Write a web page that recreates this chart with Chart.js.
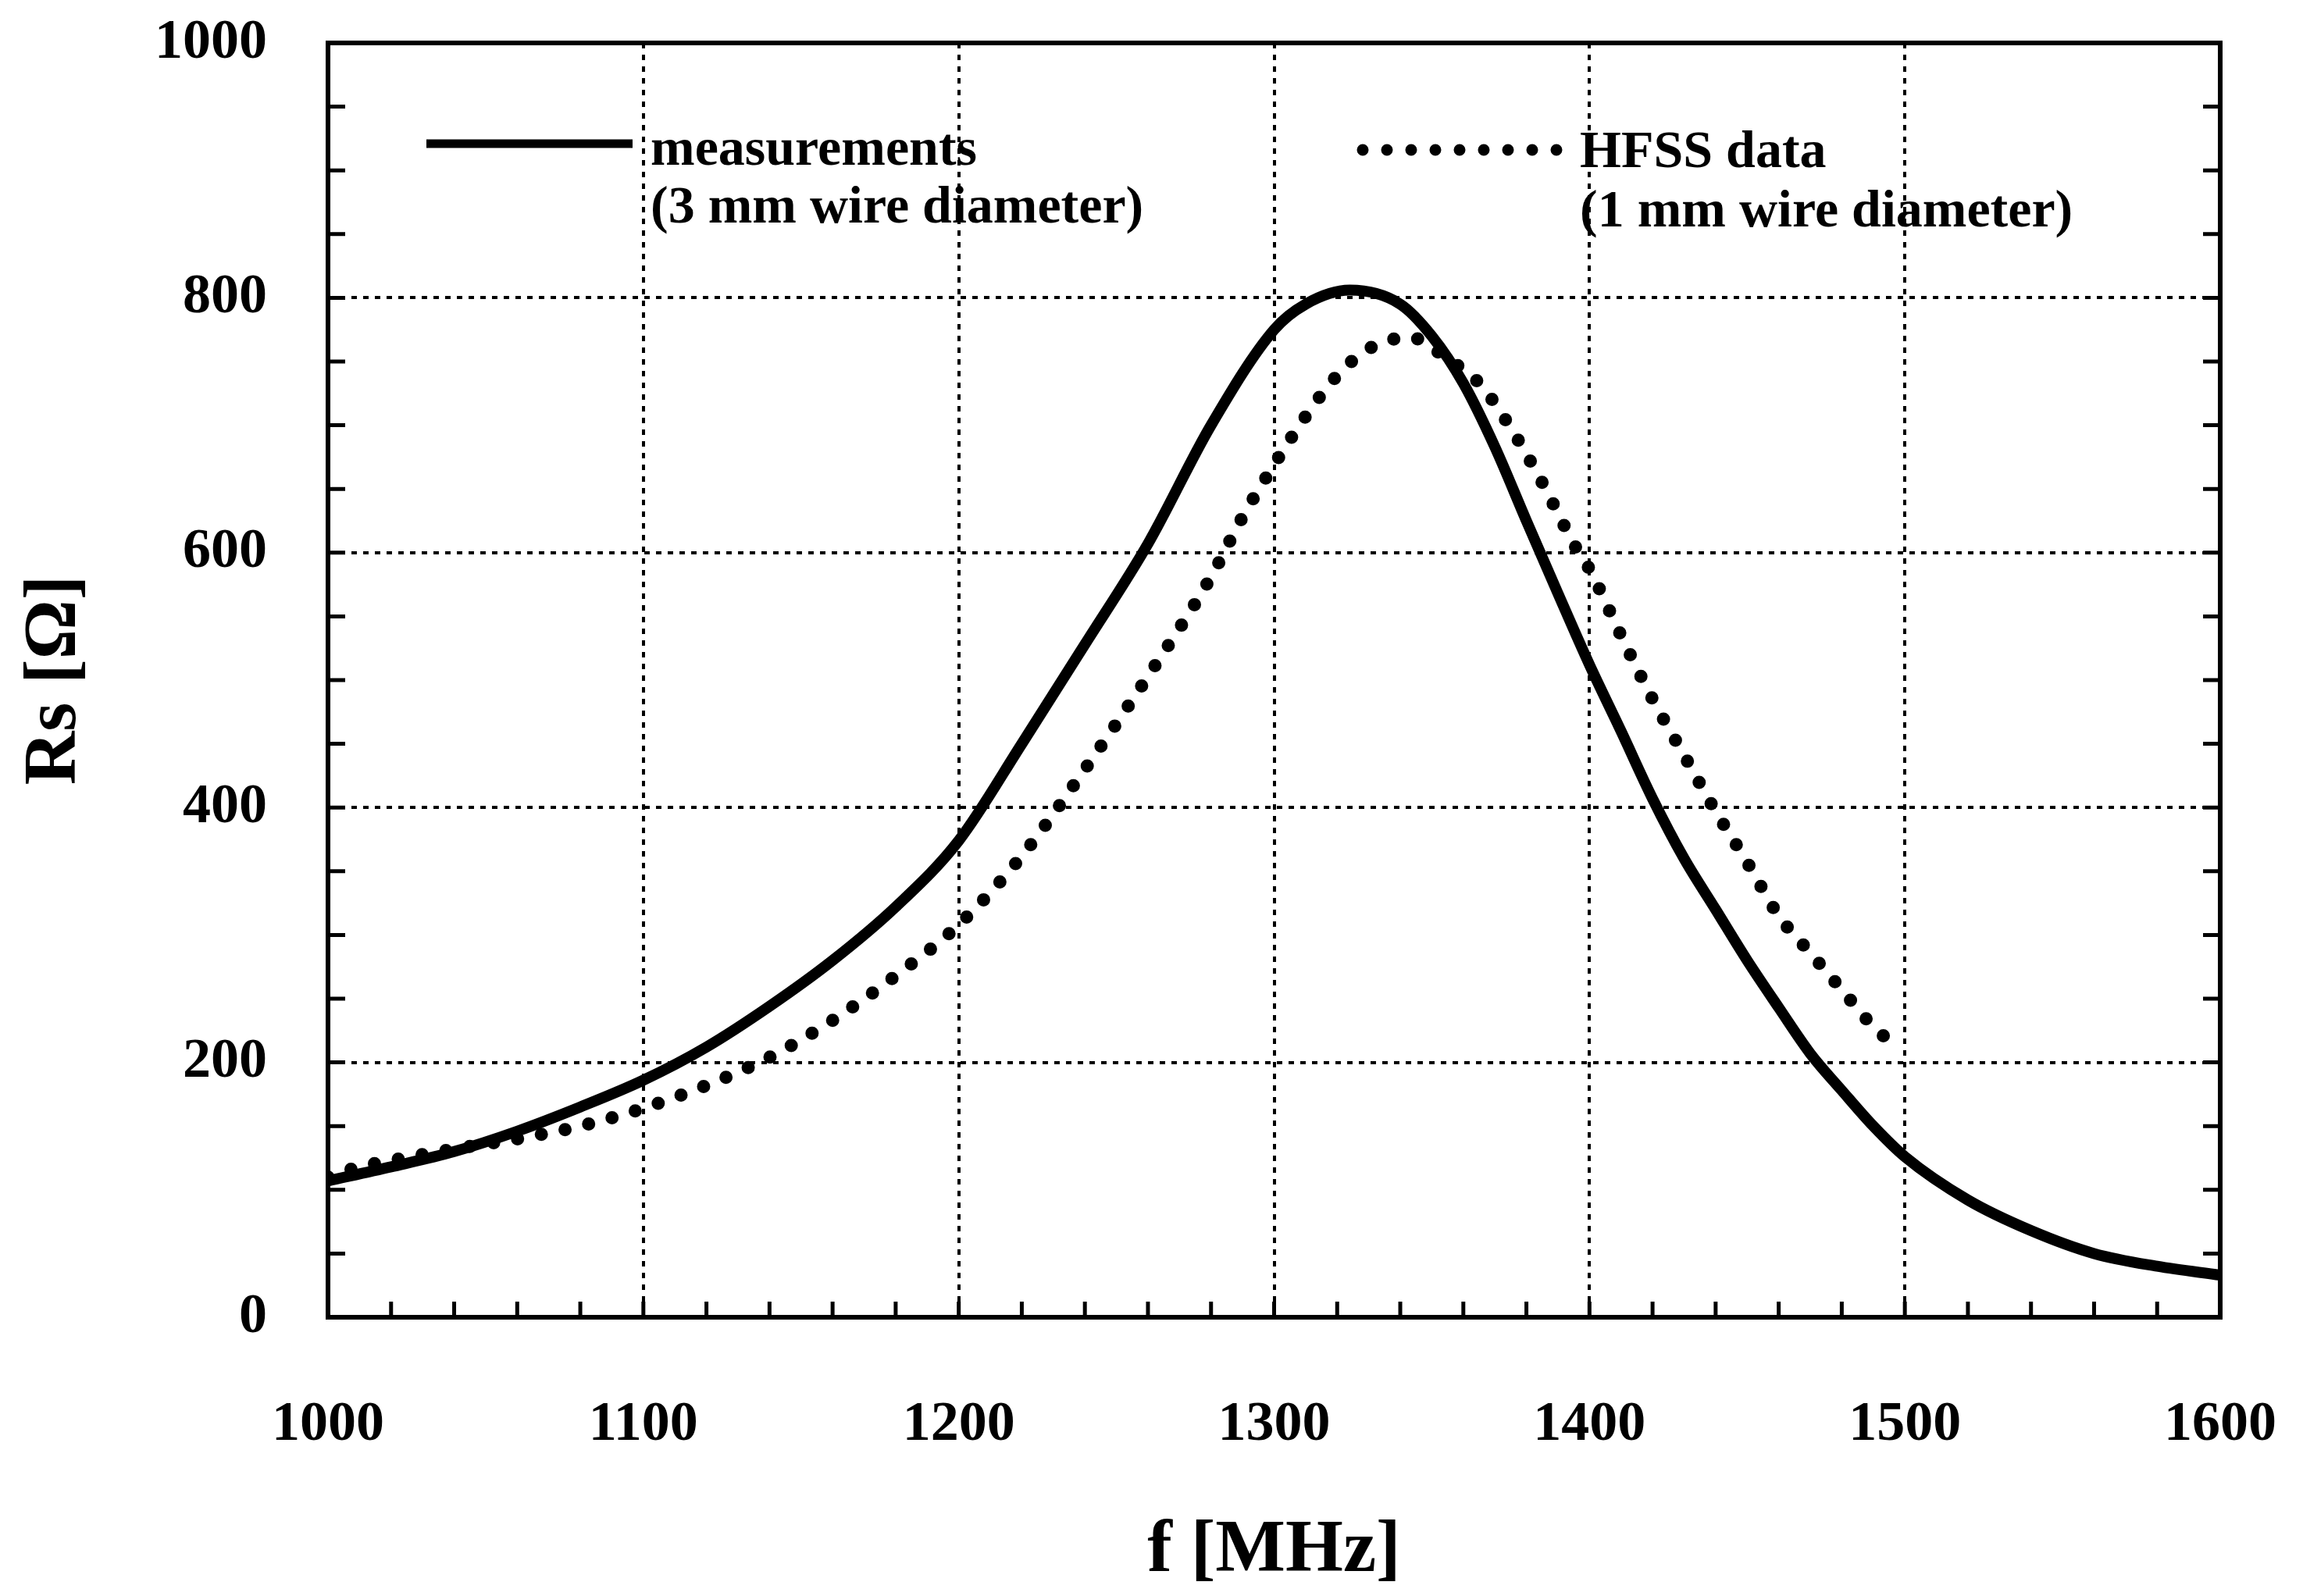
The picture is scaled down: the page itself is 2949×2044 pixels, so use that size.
<!DOCTYPE html>
<html>
<head>
<meta charset="utf-8">
<script src="https://cdn.jsdelivr.net/npm/chart.js@4.4.0/dist/chart.umd.min.js"></script>
<style>
  html, body { margin: 0; padding: 0; background: #fff; }
  #wrap { width: 2949px; height: 2044px; }
</style>
</head>
<body>
<div id="wrap"><canvas id="rsChart" width="2949" height="2044"></canvas></div>
<script>
// measured curve (3 mm wire)
const freqMeas = [1000, 1020, 1040, 1060, 1080, 1100, 1120, 1140, 1160, 1180, 1200, 1220, 1240, 1260, 1280, 1300, 1310, 1324, 1340, 1350, 1360, 1370, 1380, 1390, 1400, 1410, 1420, 1430, 1440, 1450, 1460, 1470, 1480, 1490, 1500, 1520, 1540, 1560, 1580, 1600];
const rsMeas = [107, 118, 130, 146, 165, 186, 212, 244, 280, 322, 374, 450, 528, 607, 700, 775, 795, 806, 795, 770, 733, 683, 625, 568, 512, 460, 407, 360, 320, 280, 243, 207, 178, 150, 126, 92, 68, 50, 40, 33];

// HFSS simulation (1 mm wire)
const freqHfss = [1000, 1010, 1020, 1040, 1060, 1080, 1100, 1120, 1140, 1160, 1180, 1200, 1220, 1240, 1260, 1280, 1290, 1300, 1310, 1320, 1330, 1343, 1355, 1365, 1375, 1385, 1395, 1400, 1410, 1420, 1430, 1440, 1450, 1460, 1470, 1480, 1490, 1495];
const rsHfss = [110, 118, 123, 132, 140, 150, 164, 182, 204, 233, 268, 308, 362, 430, 503, 581, 628, 669, 707, 739, 760, 769, 752, 733, 698, 655, 607, 587, 535, 485, 441, 397, 357, 315, 286, 257, 228, 217];

const xLabels = [1000, 1100, 1200, 1300, 1400, 1500, 1600];
const yLabels = [0, 200, 400, 600, 800, 1000];
const legendMeas = ["measurements", "(3 mm wire diameter)"];
const legendHfss = ["HFSS data", "(1 mm wire diameter)"];

const serif = "'Liberation Serif', 'Times New Roman', serif";
const toXY = (xs, ys) => xs.map((x, i) => ({ x, y: ys[i] }));

// frame, inward tick marks and the in-plot legend
const framePlugin = {
  id: "frame",
  afterDatasetsDraw(chart) {
    const { ctx, chartArea: a, scales: { x, y } } = chart;
    ctx.save();
    ctx.strokeStyle = "#000";
    ctx.lineWidth = 5;
    y.ticks.forEach(t => {
      const py = y.getPixelForValue(t.value);
      ctx.beginPath();
      ctx.moveTo(a.left, py); ctx.lineTo(a.left + 22, py);
      ctx.moveTo(a.right, py); ctx.lineTo(a.right - 22, py);
      ctx.stroke();
    });
    x.ticks.forEach(t => {
      const px = x.getPixelForValue(t.value);
      ctx.beginPath();
      ctx.moveTo(px, a.bottom); ctx.lineTo(px, a.bottom - 20);
      ctx.stroke();
    });
    ctx.lineWidth = 6;
    ctx.strokeRect(a.left, a.top, a.right - a.left, a.bottom - a.top);

    // legend
    ctx.fillStyle = "#000";
    ctx.font = "bold 68px " + serif;
    ctx.textBaseline = "alphabetic";
    ctx.lineWidth = 11;
    ctx.beginPath();
    ctx.moveTo(546, 184); ctx.lineTo(810, 184);
    ctx.stroke();
    ctx.fillText(legendMeas[0], 833, 211);
    ctx.fillText(legendMeas[1], 833, 285);

    ctx.lineWidth = 15;
    ctx.lineCap = "round";
    ctx.setLineDash([0, 31]);
    ctx.beginPath();
    ctx.moveTo(1745, 192); ctx.lineTo(1995, 192);
    ctx.stroke();
    ctx.setLineDash([]);
    ctx.fillText(legendHfss[0], 2023, 214);
    ctx.fillText(legendHfss[1], 2023, 290);
    ctx.restore();
  }
};

new Chart(document.getElementById("rsChart"), {
  type: "line",
  data: {
    datasets: [{
      label: "measurements",
      data: toXY(freqMeas, rsMeas),
      borderColor: "#000",
      borderWidth: 14,
      pointRadius: 0,
      cubicInterpolationMode: "monotone",
      borderCapStyle: "round",
      fill: false
    }, {
      label: "HFSS data",
      data: toXY(freqHfss, rsHfss),
      borderColor: "#000",
      borderWidth: 17,
      borderDash: [0, 31],
      borderCapStyle: "round",
      pointRadius: 0,
      cubicInterpolationMode: "monotone",
      fill: false
    }]
  },
  options: {
    responsive: false,
    animation: false,
    devicePixelRatio: 1,
    layout: { padding: { left: 0, right: 106, top: 55, bottom: 0 } },
    plugins: { legend: { display: false }, tooltip: { enabled: false } },
    scales: {
      x: {
        type: "linear",
        min: 1000,
        max: 1600,
        afterFit: s => { s.height = 357; },
        ticks: {
          stepSize: 20,
          autoSkip: false,
          maxRotation: 0,
          padding: 0,
          color: "#000",
          font: { family: serif, size: 72, weight: "bold" },
          callback: v => xLabels.includes(v) ? String(v) : ""
        },
        grid: {
          drawTicks: true,
          tickLength: 95,
          tickColor: "rgba(0,0,0,0)",
          lineWidth: 4,
          color: c => c.tick && xLabels.includes(c.tick.value) ? "#000" : "rgba(0,0,0,0)"
        },
        border: { display: false, dash: [7, 8] },
        title: {
          display: true,
          text: "f [MHz]",
          color: "#000",
          font: { family: serif, size: 95, weight: "bold" },
          padding: { top: 0, bottom: 0 }
        }
      },
      y: {
        type: "linear",
        min: 0,
        max: 1000,
        afterFit: s => { s.width = 420; },
        ticks: {
          stepSize: 50,
          autoSkip: false,
          padding: 0,
          color: "#000",
          font: { family: serif, size: 72, weight: "bold" },
          callback: v => yLabels.includes(v) ? String(v) : ""
        },
        grid: {
          drawTicks: true,
          tickLength: 78,
          tickColor: "rgba(0,0,0,0)",
          lineWidth: 4,
          color: c => c.tick && yLabels.includes(c.tick.value) ? "#000" : "rgba(0,0,0,0)"
        },
        border: { display: false, dash: [7, 8] },
        title: {
          display: true,
          text: "Rs [Ω]",
          color: "#000",
          font: { family: serif, size: 95, weight: "bold" },
          padding: { top: 14, bottom: 0 }
        }
      }
    }
  },
  plugins: [framePlugin]
});
</script>
</body>
</html>
